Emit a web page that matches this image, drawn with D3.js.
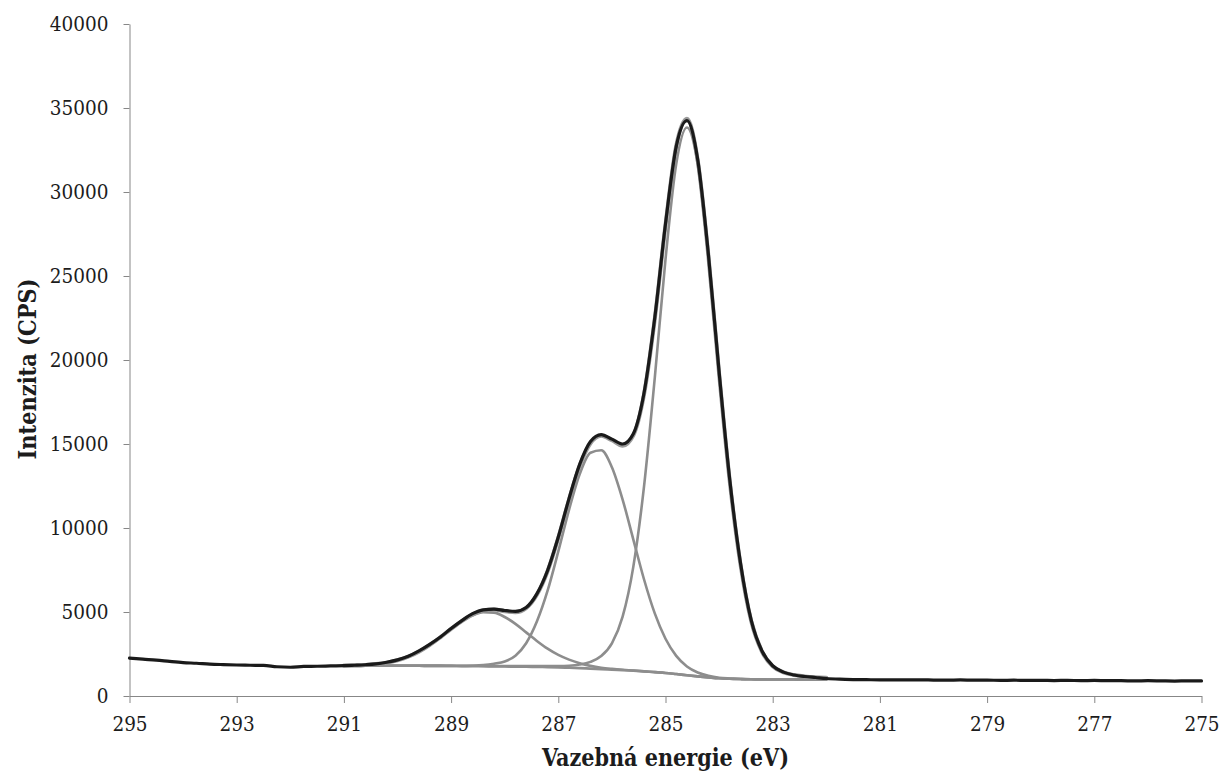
<!DOCTYPE html>
<html>
<head>
<meta charset="utf-8">
<script src="https://cdn.jsdelivr.net/npm/d3@7"></script>
<style>
  html, body { margin: 0; padding: 0; background: #ffffff; }
  svg { display: block; }
</style>
</head>
<body>
<svg id="chart" width="1220" height="772"></svg>
<script>
// C 1s XPS spectrum with curve fit: binding energy (eV) vs. intensity (CPS)

// Energy grid of the fitted curves (eV)
const fitEnergy = [
  291.0, 290.8, 290.6, 290.4, 290.2, 290.0, 289.8, 289.6, 289.4, 289.2,
  289.0, 288.8, 288.6, 288.4, 288.2, 288.0, 287.8, 287.6, 287.4, 287.2,
  287.0, 286.8, 286.6, 286.4, 286.2, 286.0, 285.8, 285.6, 285.4, 285.2,
  285.0, 284.8, 284.6, 284.4, 284.2, 284.0, 283.8, 283.6, 283.4, 283.2,
  283.0, 282.8, 282.6, 282.4, 282.2, 282.0
];

// Shirley background
const background = [
  1790, 1794, 1797, 1799, 1800, 1800, 1798, 1797, 1794, 1791,
  1787, 1781, 1776, 1769, 1762, 1754, 1746, 1738, 1728, 1716,
  1704, 1684, 1661, 1632, 1602, 1572, 1540, 1508, 1465, 1420,
  1372, 1305, 1235, 1170, 1110, 1055, 1030, 1008, 995, 988,
  982, 980, 978, 977, 976, 975
];

// Component at 284.6 eV (on background)
const peakMain = [
  1800, 1804, 1807, 1810, 1812, 1813, 1812, 1812, 1810, 1808,
  1806, 1802, 1800, 1796, 1792, 1788, 1785, 1782, 1780, 1778,
  1780, 1800, 1870, 2030, 2380, 3139, 4721, 7703, 12490, 18943,
  25992, 31662, 33835, 31670, 26110, 19155, 12730, 7808, 4445, 2638,
  1762, 1410, 1248, 1167, 1116, 1085
];

// Component at 286.3 eV (on background)
const peakMid = [
  1790, 1794, 1797, 1799, 1800, 1800, 1798, 1797, 1794, 1791,
  1787, 1784, 1801, 1839, 1922, 2054, 2396, 3138, 4428, 6266,
  8604, 11084, 13214, 14479, 14628, 13615, 11692, 9312, 6934, 4915,
  3409, 2387, 1759, 1402, 1203, 1089, 1042, 1012, 995, 988,
  982, 980, 978, 977, 976, 975
];

// Component at 288.3 eV (on background)
const peakHigh = [
  1799, 1815, 1842, 1890, 1975, 2113, 2323, 2624, 3014, 3478,
  3972, 4435, 4797, 4993, 4962, 4704, 4296, 3788, 3278, 2816,
  2444, 2164, 1951, 1792, 1682, 1612, 1558, 1516, 1468, 1420,
  1372, 1305, 1235, 1170, 1110, 1055, 1030, 1008, 995, 988,
  982, 980, 978, 977, 976, 975
];

// Sum of the fitted components
const envelope = [
  1809, 1825, 1852, 1901, 1987, 2126, 2337, 2639, 3030, 3495,
  3991, 4459, 4846, 5090, 5152, 5038, 4985, 5232, 6030, 7428,
  9420, 11680, 13713, 15037, 15486, 15222, 14891, 15515, 17962, 22438,
  28029, 32744, 34359, 31902, 26203, 19189, 12742, 7812, 4445, 2638,
  1762, 1410, 1248, 1167, 1116, 1085
];

// Measured spectrum
const measuredEnergy = [
  295.0, 294.75, 294.5, 294.25, 294.0, 293.75, 293.5, 293.25, 293.0, 292.75,
  292.5, 292.25, 292.0, 291.75, 291.5, 291.25,
  291.0, 290.8, 290.6, 290.4, 290.2, 290.0, 289.8, 289.6, 289.4, 289.2,
  289.0, 288.8, 288.6, 288.4, 288.2, 288.0, 287.8, 287.6, 287.4, 287.2,
  287.0, 286.8, 286.6, 286.4, 286.2, 286.0, 285.8, 285.6, 285.4, 285.2,
  285.0, 284.8, 284.6, 284.4, 284.2, 284.0, 283.8, 283.6, 283.4, 283.2,
  283.0, 282.8, 282.6, 282.4, 282.2,
  282.0, 281.75, 281.5, 281.25, 281.0, 280.75, 280.5, 280.25, 280.0, 279.75,
  279.5, 279.25, 279.0, 278.75, 278.5, 278.25, 278.0, 277.75, 277.5, 277.25,
  277.0, 276.75, 276.5, 276.25, 276.0, 275.75, 275.5, 275.25, 275.0
];
const measured = [
  2250, 2190, 2140, 2060, 1990, 1950, 1900, 1870, 1845, 1830,
  1820, 1740, 1712, 1760, 1770, 1790,
  1805, 1830, 1860, 1910, 2010, 2150, 2360, 2680, 3070, 3510,
  4020, 4490, 4900, 5130, 5170, 5090, 5040, 5270, 6080, 7470,
  9460, 11750, 13800, 15150, 15560, 15290, 15000, 15610, 18050, 22520,
  28100, 32700, 34250, 31950, 26300, 19300, 12850, 7900, 4500, 2680,
  1800, 1420, 1250, 1160, 1100,
  1040, 1000, 980, 970, 960, 965, 955, 960, 950, 945,
  955, 940, 945, 930, 940, 925, 930, 920, 930, 915,
  925, 910, 915, 895, 910, 900, 890, 905, 895
];

// Axis ticks
const xTicks = [295, 293, 291, 289, 287, 285, 283, 281, 279, 277, 275];
const yTicks = [0, 5000, 10000, 15000, 20000, 25000, 30000, 35000, 40000];

// Layout
const plot = { left: 129.5, right: 1201.5, top: 24, bottom: 696 };
const FONT = "DejaVu Serif Condensed, DejaVu Serif";
const AXIS_COLOR = "#878787";
const TEXT_COLOR = "#1c1c1c";

const svg = d3.select("#chart");

const x = d3.scaleLinear().domain([295, 275]).range([plot.left, plot.right]);
const y = d3.scaleLinear().domain([0, 40000]).range([plot.bottom, plot.top]);

// Y axis
const yAxis = svg.append("g")
  .attr("transform", `translate(${plot.left},0)`)
  .call(d3.axisLeft(y).tickValues(yTicks).tickFormat(d3.format("d"))
    .tickSize(6).tickSizeOuter(0).tickPadding(15));

// X axis
const xAxis = svg.append("g")
  .attr("transform", `translate(0,${plot.bottom})`)
  .call(d3.axisBottom(x).tickValues(xTicks).tickFormat(d3.format("d"))
    .tickSize(7).tickSizeOuter(0).tickPadding(13));

[yAxis, xAxis].forEach(g => {
  g.attr("font-family", FONT).attr("font-size", 20.5);
  g.select(".domain").attr("stroke", AXIS_COLOR).attr("stroke-width", 1);
  g.selectAll(".tick line").attr("stroke", AXIS_COLOR).attr("stroke-width", 1);
  g.selectAll(".tick text").attr("fill", TEXT_COLOR)
    .style("font-stretch", "condensed");
});

// Curves
const fitLine = values => d3.line()
  .x((d, i) => x(fitEnergy[i]))
  .y(d => y(d))
  .curve(d3.curveMonotoneX)(values);

const curves = svg.append("g").attr("fill", "none")
  .attr("stroke-linejoin", "round").attr("stroke-linecap", "round");

[background, peakHigh, peakMid, peakMain].forEach(series => {
  curves.append("path")
    .attr("d", fitLine(series))
    .attr("stroke", "#8d8d8d")
    .attr("stroke-width", 2.6);
});

curves.append("path")
  .attr("d", fitLine(envelope))
  .attr("stroke", "#9a9a9a")
  .attr("stroke-width", 4);

curves.append("path")
  .attr("d", d3.line()
    .x((d, i) => x(measuredEnergy[i]))
    .y(d => y(d))
    .curve(d3.curveMonotoneX)(measured))
  .attr("stroke", "#1a1a1a")
  .attr("stroke-width", 3.2);

// Axis titles
svg.append("text")
  .attr("x", (plot.left + plot.right) / 2)
  .attr("y", 766)
  .attr("text-anchor", "middle")
  .attr("fill", TEXT_COLOR)
  .attr("font-family", FONT)
  .attr("font-size", 25)
  .attr("font-weight", "bold")
  .attr("textLength", 247)
  .attr("lengthAdjust", "spacingAndGlyphs")
  .style("font-stretch", "condensed")
  .text("Vazebná energie (eV)");

svg.append("text")
  .attr("transform", `translate(36,${(plot.top + plot.bottom) / 2 + 9}) rotate(-90)`)
  .attr("text-anchor", "middle")
  .attr("fill", TEXT_COLOR)
  .attr("font-family", FONT)
  .attr("font-size", 25)
  .attr("font-weight", "bold")
  .attr("textLength", 181)
  .attr("lengthAdjust", "spacingAndGlyphs")
  .style("font-stretch", "condensed")
  .text("Intenzita (CPS)");
</script>
</body>
</html>
